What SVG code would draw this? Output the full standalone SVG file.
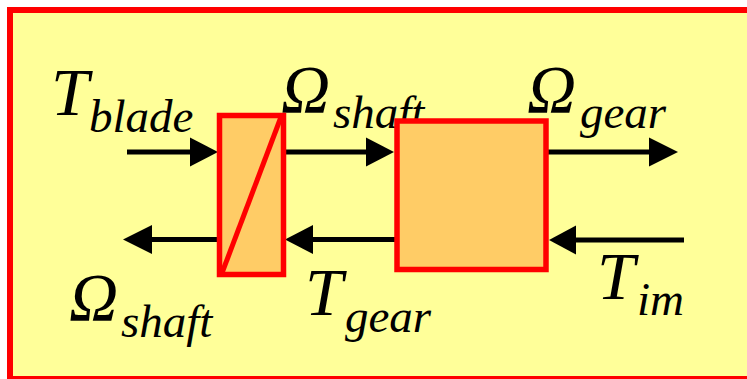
<svg xmlns="http://www.w3.org/2000/svg" width="747" height="379" viewBox="0 0 747 379">
<style>
.bg{fill:#FFFF99;stroke:#FF0000;stroke-width:6}
.blk{fill:#FFCC66;stroke:#FF0000;stroke-width:5.5}
.diag{stroke:#FF0000;stroke-width:5;fill:none}
.ln{stroke:#000;stroke-width:5;fill:none}
.hd{fill:#000}
</style>
<rect width="747" height="379" fill="#FFFFFF"/>
<rect class="bg" x="10" y="10" width="760" height="369"/>
<g id="labels" font-family="Liberation Serif, Times New Roman, serif" font-style="italic" fill="#000">
  <text font-size="68" x="51" y="115">T</text><text font-size="47" x="89" y="132">blade</text>
  <text font-size="68" x="281" y="112">Ω</text><text font-size="47" x="333" y="128">shaft</text>
  <text font-size="68" x="527" y="112">Ω</text><text font-size="47" x="580" y="128">gear</text>
  <text font-size="68" x="69" y="320">Ω</text><text font-size="47" x="121" y="337">shaft</text>
  <text font-size="68" x="305" y="315">T</text><text font-size="47" x="345" y="332">gear</text>
  <text font-size="68" x="597" y="299">T</text><text font-size="47" x="637" y="315">im</text>
</g>
<g id="connectors">
  <line class="ln" x1="127" y1="152" x2="195" y2="152"/>
  <polygon class="hd" points="190,137.5 218,152 190,166.5"/>
  <line class="ln" x1="284" y1="152" x2="370" y2="152"/>
  <polygon class="hd" points="366,137.5 394,152 366,166.5"/>
  <line class="ln" x1="547" y1="152" x2="652" y2="152"/>
  <polygon class="hd" points="649,137.5 678,152 649,166.5"/>
  <line class="ln" x1="219" y1="239.5" x2="148" y2="239.5"/>
  <polygon class="hd" points="123,239.5 152,225 152,254"/>
  <line class="ln" x1="396" y1="239.5" x2="309" y2="239.5"/>
  <polygon class="hd" points="285,239.5 313,225 313,254"/>
  <line class="ln" x1="684" y1="240" x2="572" y2="240"/>
  <polygon class="hd" points="549,240 576,225.5 576,254.5"/>
</g>
<g id="shaft">
  <rect class="blk" x="219.5" y="115.5" width="64" height="159"/>
  <line class="diag" x1="281" y1="117" x2="222" y2="273"/>
</g>
<g id="gearbox">
  <rect class="blk" x="397" y="121" width="149" height="148.5"/>
</g>
</svg>
